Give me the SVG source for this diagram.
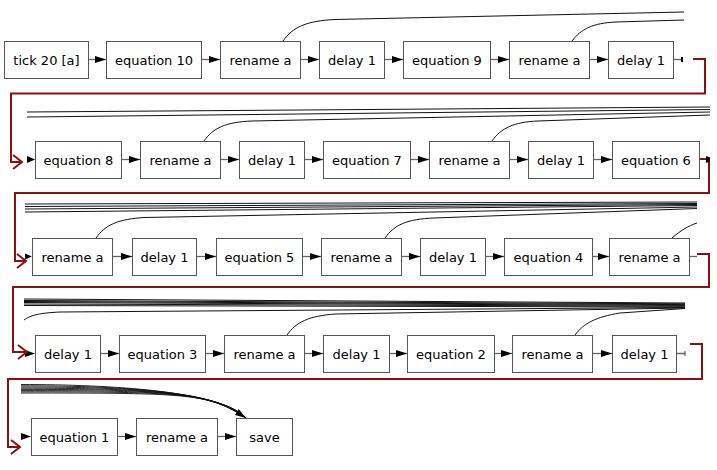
<svg xmlns="http://www.w3.org/2000/svg" width="717" height="470" viewBox="0 0 717 470">
<defs>
<style>
.node rect{fill:#fff;stroke:#555;stroke-width:1}
.node text{font-family:"DejaVu Sans",Verdana,sans-serif;font-size:13px;fill:#000;text-anchor:middle}
.e{stroke:#666;stroke-width:1.3;fill:none}
.b{stroke:#111;stroke-width:1;fill:none}
.b2{stroke:#111;stroke-width:0.9;fill:none}
.r{stroke:#8b1010;stroke-width:2;fill:none}
.ah{fill:#000}
</style>
<marker id="arr" markerUnits="userSpaceOnUse" markerWidth="11" markerHeight="8" viewBox="0 0 11 8" refX="11" refY="4" orient="auto">
<path d="M0,0.5 L11,4 L0,7.5 z" fill="#000"/>
</marker>
<marker id="open" markerUnits="userSpaceOnUse" markerWidth="12" markerHeight="16" viewBox="0 0 12 16" refX="10" refY="8" orient="auto">
<path d="M1,1 L10,8 L1,15" fill="none" stroke="#8b1010" stroke-width="2"/>
</marker>
</defs>
<rect width="717" height="470" fill="#fff"/>

<g id="connectors">
<path class="e" d="M88,59.5 H106" marker-end="url(#arr)"/>
<path class="e" d="M201,59.5 H220" marker-end="url(#arr)"/>
<path class="e" d="M300,59.5 H319" marker-end="url(#arr)"/>
<path class="e" d="M384,59.5 H403" marker-end="url(#arr)"/>
<path class="e" d="M490,59.5 H509" marker-end="url(#arr)"/>
<path class="e" d="M589,59.5 H608" marker-end="url(#arr)"/>
<path class="e" d="M673,59.5 H683"/>
<rect class="ah" x="681" y="57" width="2" height="5"/>
<polygon class="ah" points="27,156 35,159.5 27,163"/>
<path class="e" d="M121,159.5 H140" marker-end="url(#arr)"/>
<path class="e" d="M220,159.5 H239" marker-end="url(#arr)"/>
<path class="e" d="M304,159.5 H323" marker-end="url(#arr)"/>
<path class="e" d="M410,159.5 H429" marker-end="url(#arr)"/>
<path class="e" d="M509,159.5 H528" marker-end="url(#arr)"/>
<path class="e" d="M593,159.5 H612" marker-end="url(#arr)"/>
<polygon class="ah" points="25,253.5 32,256.5 25,259.5"/>
<path class="e" d="M112,256.5 H132" marker-end="url(#arr)"/>
<path class="e" d="M196,256.5 H216" marker-end="url(#arr)"/>
<path class="e" d="M302,256.5 H321" marker-end="url(#arr)"/>
<path class="e" d="M401,256.5 H420" marker-end="url(#arr)"/>
<path class="e" d="M485,256.5 H504" marker-end="url(#arr)"/>
<path class="e" d="M592,256.5 H609" marker-end="url(#arr)"/>
<path class="e" d="M689,256.5 H697"/>
<polygon class="ah" points="25,350 35,353.5 25,357"/>
<path class="e" d="M100,353.5 H119" marker-end="url(#arr)"/>
<path class="e" d="M205,353.5 H224" marker-end="url(#arr)"/>
<path class="e" d="M304,353.5 H323" marker-end="url(#arr)"/>
<path class="e" d="M389,353.5 H407" marker-end="url(#arr)"/>
<path class="e" d="M494,353.5 H512" marker-end="url(#arr)"/>
<path class="e" d="M592,353.5 H612" marker-end="url(#arr)"/>
<path class="e" d="M676,353.5 H685 M685,351 V356"/>
<polygon class="ah" points="21,433 31,436.5 21,440"/>
<path class="e" d="M117,436.5 H136" marker-end="url(#arr)"/>
<path class="e" d="M217,436.5 H236" marker-end="url(#arr)"/>

<path class="r" d="M693,59 H705 V93.5 H11 V162 H22" marker-end="url(#open)"/>
<path class="r" d="M699,159 H709 V193 H15 V261 H26" marker-end="url(#open)"/>
<polygon class="ah" points="706,156 710,157.5 710,161.5 706,163"/>
<path class="r" d="M697,254 H709 V287 H13 V352 H27" marker-end="url(#open)"/>
<path class="r" d="M690,344 H702 V379 H8 V447 H20" marker-end="url(#open)"/>

<path class="b" d="M283,41 C293,27 306,21 335,19.5 L684,12"/>
<path class="b" d="M572,41 C581,29 593,23 616,22 L684,20"/>
<path class="b" d="M27,112 L710,107"/>
<path class="b" d="M27,117 L710,109.5"/>
<path class="b" d="M204,141 C213,128 226,122 252,121 L710,112"/>
<path class="b" d="M492,141 C501,128 514,122 538,121 L710,115"/>
<path class="b" d="M25,204 L697,202"/>
<path class="b" d="M25,206.5 L697,203.5"/>
<path class="b" d="M25,209 L697,204.5"/>
<path class="b" d="M25,212 L697,205.5"/>
<path class="b" d="M96,238 C105,225 118,219 145,217.5 L697,207"/>
<path class="b" d="M385,238 C394,225 407,219 434,218 L697,208.5"/>
<path class="b" d="M672,238 C680,231 688,226 697,223"/>
<path class="b" d="M24,299 L685,303"/>
<path class="b" d="M24,300.5 L685,303.8"/>
<path class="b" d="M24,301.5 L685,304.6"/>
<path class="b" d="M24,302.5 L685,305.4"/>
<path class="b" d="M24,304 L685,306.2"/>
<path class="b" d="M24,305.5 L685,307"/>
<path class="b" d="M24,320 C31,315 40,313 60,312 L685,307.5"/>
<path class="b" d="M287,335 C296,322 309,316 335,314 L685,308"/>
<path class="b" d="M575,335 C584,323 596,317 620,313 L685,308.5"/>
<path class="b2" d="M21,384.5 C110,384.5 222,391 246,418"/>
<path class="b2" d="M21,385.8 C122,385.8 220,391 246,418"/>
<path class="b2" d="M21,387 C134,387 218,391.5 246,418"/>
<path class="b2" d="M21,388.2 C146,388.2 216,392 246,418"/>
<path class="b2" d="M21,389.4 C158,389.4 214,392 246,418"/>
<path class="b2" d="M21,390.6 C170,390.6 212,392.5 246,418"/>
<path class="b2" d="M21,391.8 C182,391.8 210,393 246,418"/>
<path class="b2" d="M21,393 C194,393 208,393.5 246,418" marker-end="url(#arr)"/>
</g>

<g id="n1" class="node"><rect x="4.5" y="41.5" width="84" height="37"/><text x="46.5" y="64.5">tick 20 [a]</text></g>
<g id="n2" class="node"><rect x="106.5" y="41.5" width="95" height="37"/><text x="154" y="64.5">equation 10</text></g>
<g id="n3" class="node"><rect x="220.5" y="41.5" width="80" height="37"/><text x="260.5" y="64.5">rename a</text></g>
<g id="n4" class="node"><rect x="319.5" y="41.5" width="65" height="37"/><text x="352" y="64.5">delay 1</text></g>
<g id="n5" class="node"><rect x="403.5" y="41.5" width="87" height="37"/><text x="447" y="64.5">equation 9</text></g>
<g id="n6" class="node"><rect x="509.5" y="41.5" width="80" height="37"/><text x="549.5" y="64.5">rename a</text></g>
<g id="n7" class="node"><rect x="608.5" y="41.5" width="65" height="37"/><text x="641" y="64.5">delay 1</text></g>

<g id="n8" class="node"><rect x="35.5" y="141.5" width="86" height="37"/><text x="78.5" y="164.5">equation 8</text></g>
<g id="n9" class="node"><rect x="140.5" y="141.5" width="80" height="37"/><text x="180.5" y="164.5">rename a</text></g>
<g id="n10" class="node"><rect x="239.5" y="141.5" width="65" height="37"/><text x="272" y="164.5">delay 1</text></g>
<g id="n11" class="node"><rect x="323.5" y="141.5" width="87" height="37"/><text x="367" y="164.5">equation 7</text></g>
<g id="n12" class="node"><rect x="429.5" y="141.5" width="80" height="37"/><text x="469.5" y="164.5">rename a</text></g>
<g id="n13" class="node"><rect x="528.5" y="141.5" width="65" height="37"/><text x="561" y="164.5">delay 1</text></g>
<g id="n14" class="node"><rect x="612.5" y="141.5" width="87" height="37"/><text x="656" y="164.5">equation 6</text></g>

<g id="n15" class="node"><rect x="32.5" y="238.5" width="80" height="37"/><text x="72.5" y="261.5">rename a</text></g>
<g id="n16" class="node"><rect x="132.5" y="238.5" width="64" height="37"/><text x="164.5" y="261.5">delay 1</text></g>
<g id="n17" class="node"><rect x="216.5" y="238.5" width="86" height="37"/><text x="259.5" y="261.5">equation 5</text></g>
<g id="n18" class="node"><rect x="321.5" y="238.5" width="80" height="37"/><text x="361.5" y="261.5">rename a</text></g>
<g id="n19" class="node"><rect x="420.5" y="238.5" width="65" height="37"/><text x="453" y="261.5">delay 1</text></g>
<g id="n20" class="node"><rect x="504.5" y="238.5" width="88" height="37"/><text x="548.5" y="261.5">equation 4</text></g>
<g id="n21" class="node"><rect x="609.5" y="238.5" width="80" height="37"/><text x="649.5" y="261.5">rename a</text></g>

<g id="n22" class="node"><rect x="35.5" y="335.5" width="65" height="37"/><text x="68" y="358.5">delay 1</text></g>
<g id="n23" class="node"><rect x="119.5" y="335.5" width="86" height="37"/><text x="162.5" y="358.5">equation 3</text></g>
<g id="n24" class="node"><rect x="224.5" y="335.5" width="80" height="37"/><text x="264.5" y="358.5">rename a</text></g>
<g id="n25" class="node"><rect x="323.5" y="335.5" width="66" height="37"/><text x="356.5" y="358.5">delay 1</text></g>
<g id="n26" class="node"><rect x="407.5" y="335.5" width="87" height="37"/><text x="451" y="358.5">equation 2</text></g>
<g id="n27" class="node"><rect x="512.5" y="335.5" width="80" height="37"/><text x="552.5" y="358.5">rename a</text></g>
<g id="n28" class="node"><rect x="612.5" y="335.5" width="64" height="37"/><text x="644.5" y="358.5">delay 1</text></g>

<g id="n29" class="node"><rect x="31.5" y="418.5" width="86" height="37"/><text x="74.5" y="441.5">equation 1</text></g>
<g id="n30" class="node"><rect x="136.5" y="418.5" width="81" height="37"/><text x="177" y="441.5">rename a</text></g>
<g id="n31" class="node"><rect x="236.5" y="418.5" width="56" height="37"/><text x="264.5" y="441.5">save</text></g>
</svg>
